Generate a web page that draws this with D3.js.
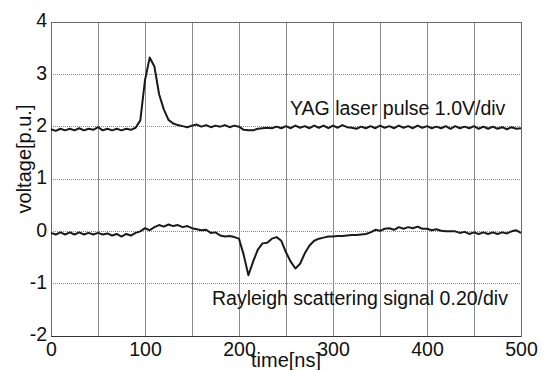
<!DOCTYPE html>
<html><head><meta charset="utf-8">
<script src="https://cdn.jsdelivr.net/npm/d3@7"></script>
<style>
html,body{margin:0;padding:0;background:#fff;}
svg text{font-family:"Liberation Sans",Arial,sans-serif;fill:#111;}
</style></head>
<body><svg id="c" width="545" height="370"></svg>
<script>
// time axis in ns (5 ns steps)
const time = d3.range(0, 501, 5);
// YAG laser pulse (1.0 V/div), offset to 2
const yagPulse = [1.95,1.92,1.96,1.93,1.96,1.93,1.97,1.93,1.96,1.94,1.99,1.93,1.96,1.93,1.96,1.93,1.96,1.94,1.98,2.12,
2.89,3.32,3.15,2.62,2.33,2.13,2.06,2.03,2.01,1.99,2.02,2.04,2.00,2.03,1.99,2.02,2.00,2.03,1.99,2.02,
2.00,1.94,1.93,1.93,1.96,1.97,1.98,1.97,2.00,1.97,2.01,1.97,2.02,1.98,2.01,1.97,2.02,1.98,2.02,1.97,
2.02,1.98,2.03,1.99,1.98,1.96,2.00,1.97,2.01,1.97,2.02,1.98,2.01,1.97,2.02,1.98,2.01,1.97,2.02,1.98,
2.01,1.97,2.00,1.97,2.01,1.96,2.01,1.97,2.00,1.97,2.01,1.96,2.00,1.96,2.00,1.96,1.99,1.95,1.99,1.96,1.97];
// Rayleigh scattering signal (0.20 /div), offset to 0
const rayleigh = [-0.03,-0.06,-0.02,-0.06,-0.02,-0.06,-0.02,-0.06,-0.03,-0.06,-0.03,-0.06,-0.04,-0.08,-0.05,-0.10,-0.05,-0.08,-0.03,0.00,
0.06,0.02,0.08,0.12,0.09,0.13,0.10,0.12,0.08,0.10,0.06,0.04,0.02,0.03,-0.03,-0.02,-0.08,-0.10,-0.09,-0.11,
-0.14,-0.45,-0.84,-0.58,-0.35,-0.23,-0.22,-0.14,-0.11,-0.18,-0.40,-0.58,-0.71,-0.62,-0.42,-0.27,-0.18,-0.14,-0.12,-0.10,
-0.10,-0.09,-0.09,-0.08,-0.07,-0.07,-0.06,-0.05,-0.02,0.03,0.01,0.05,0.06,0.03,0.08,0.05,0.08,0.06,0.09,0.05,
0.05,0.02,0.04,0.01,0.00,0.00,0.00,-0.03,-0.01,-0.05,-0.02,-0.05,-0.02,-0.05,-0.02,-0.05,-0.02,-0.04,0.00,0.02,-0.03];
const xTicks = [0,100,200,300,400,500];
const xGrid = [50,100,150,200,250,300,350,400,450];
const yTicks = [-2,-1,0,1,2,3,4];
const xLabel = "time[ns]";
const yLabel = "voltage[p.u.]";
const annotYag = "YAG laser pulse 1.0V/div";
const annotRay = "Rayleigh scattering signal 0.20/div";

const svg = d3.select("#c");
const L = 51, T = 22, R = 521, B = 336;
const x = d3.scaleLinear().domain([0,500]).range([L,R]);
const y = d3.scaleLinear().domain([-2,4]).range([B,T]);
const fmt = d => String(d);  // plain hyphen minus as in the original

// grid
svg.append("g").selectAll("line").data(xGrid).join("line")
  .attr("x1",d=>x(d)).attr("x2",d=>x(d)).attr("y1",T).attr("y2",B)
  .attr("stroke","#8a8a8a").attr("stroke-width",1).attr("shape-rendering","crispEdges");
svg.append("g").selectAll("line").data(yTicks.slice(1,-1)).join("line")
  .attr("x1",L).attr("x2",R).attr("y1",d=>y(d)).attr("y2",d=>y(d))
  .attr("stroke","#8a8a8a").attr("stroke-width",1).attr("stroke-dasharray","1,1").attr("shape-rendering","crispEdges");
// frame
svg.append("rect").attr("x",L).attr("y",T).attr("width",R-L).attr("height",B-T)
  .attr("fill","none").attr("stroke","#6a6a6a").attr("stroke-width",1).attr("shape-rendering","crispEdges");
svg.append("line").attr("x1",L).attr("x2",R).attr("y1",B).attr("y2",B)
  .attr("stroke","#333").attr("shape-rendering","crispEdges");

// axes
const fs = "19.5px";
const ax = svg.append("g").attr("transform",`translate(0,${B})`)
  .call(d3.axisBottom(x).tickValues(xTicks).tickSize(0).tickPadding(6).tickFormat(fmt));
ax.select(".domain").remove();
ax.selectAll("text").style("font-size",fs).attr("fill","#111");
const ay = svg.append("g").attr("transform",`translate(${L},0)`)
  .call(d3.axisLeft(y).tickValues(yTicks).tickSize(0).tickPadding(4).tickFormat(fmt));
ay.select(".domain").remove();
ay.selectAll("text").style("font-size",fs).attr("fill","#111").attr("dy","0.25em");

// labels
svg.append("text").attr("x",(L+R)/2).attr("y",367).attr("text-anchor","middle")
  .style("font-size","20px").text(xLabel);
svg.append("text").attr("transform","translate(31,159) rotate(-90)").attr("text-anchor","middle")
  .style("font-size","20px").text(yLabel);

// lines
const line = d3.line().x((d,i)=>x(time[i])).y(d=>y(d));
[yagPulse, rayleigh].forEach(s=>{
  svg.append("path").datum(s).attr("d",line).attr("fill","none")
    .attr("stroke","#1a1a1a").attr("stroke-width",2).attr("stroke-linejoin","round");
});

// annotations
svg.append("text").attr("x",290).attr("y",115).style("font-size",fs).text(annotYag);
svg.append("text").attr("x",212).attr("y",305).style("font-size",fs).text(annotRay);
</script></body></html>
